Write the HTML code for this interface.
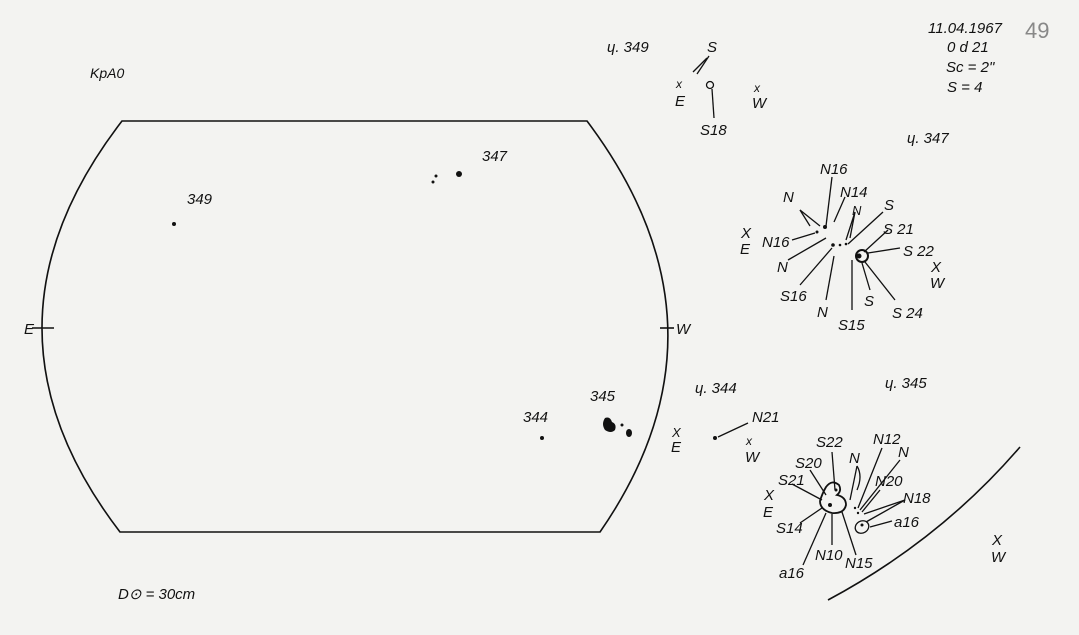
<!DOCTYPE html>
<html><head><meta charset="utf-8"><style>
html,body{margin:0;padding:0;background:#f3f3f1;}
svg{display:block}
text{font-family:"Liberation Sans",sans-serif;font-style:italic;fill:#111;font-size:15px}
</style></head><body>
<svg width="1079" height="635" viewBox="0 0 1079 635" xmlns="http://www.w3.org/2000/svg">
<rect width="1079" height="635" fill="#f3f3f1"/>
<g stroke="#111" stroke-width="1.6" fill="none">
<path d="M122,121 L587,121 Q742,327 600,532 L120,532 Q-37,327 122,121 Z"/>
<line x1="32" y1="328" x2="54" y2="328"/>
<line x1="660" y1="328" x2="674" y2="328"/>
<path d="M828,600 Q940,540 1020,447"/>
</g>
<g fill="#111">
<circle cx="174" cy="224" r="2"/>
<circle cx="459" cy="174" r="3"/>
<circle cx="436" cy="176" r="1.5"/><circle cx="433" cy="182" r="1.5"/>
<circle cx="542" cy="438" r="2"/>
<path d="M605,418 q-4,6 0,12 q6,4 10,0 q2,-6 -3,-8 q-2,-6 -7,-4z"/>
<circle cx="622" cy="425" r="1.5"/><ellipse cx="629" cy="433" rx="3" ry="4"/>
<circle cx="715" cy="438" r="2"/>
</g>
<text x="90" y="78" style="font-size:14px">KpA0</text>
<text x="187" y="204">349</text>
<text x="482" y="161">347</text>
<text x="523" y="422">344</text>
<text x="590" y="401">345</text>
<text x="24" y="334">E</text>
<text x="676" y="334">W</text>
<text x="118" y="599">D⊙ = 30cm</text>
<text x="928" y="33">11.04.1967</text>
<text x="947" y="52">0 d 21</text>
<text x="946" y="72">Sc = 2"</text>
<text x="947" y="92">S = 4</text>
<text x="1025" y="38" style="font-size:22px;fill:#888;font-style:normal">49</text>
<!-- group 349 -->
<text x="607" y="52">ɥ. 349</text>
<text x="707" y="52">S</text>
<text x="676" y="88" style="font-size:12px">x</text><text x="675" y="106">E</text>
<text x="754" y="92" style="font-size:12px">x</text><text x="752" y="108">W</text>
<text x="700" y="135">S18</text>
<g stroke="#111" stroke-width="1.3" fill="none">
<line x1="709" y1="56" x2="697" y2="74"/><line x1="707" y1="58" x2="693" y2="72"/>
<circle cx="710" cy="85" r="3.5"/><line x1="712" y1="89" x2="714" y2="118"/>
</g>
<!-- group 347 -->
<text x="907" y="143">ɥ. 347</text>
<text x="820" y="174">N16</text><text x="840" y="197">N14</text>
<text x="783" y="202">N</text><text x="852" y="215" style="font-size:13px">N</text>
<text x="884" y="210">S</text><text x="883" y="234">S 21</text>
<text x="903" y="256">S 22</text>
<text x="931" y="272">X</text><text x="930" y="288">W</text>
<text x="741" y="238">X</text><text x="740" y="254">E</text>
<text x="762" y="247">N16</text><text x="777" y="272">N</text>
<text x="780" y="301">S16</text><text x="817" y="317">N</text>
<text x="838" y="330">S15</text><text x="864" y="306">S</text>
<text x="892" y="318">S 24</text>
<g stroke="#111" stroke-width="1.3" fill="none">
<line x1="832" y1="177" x2="826" y2="226"/>
<line x1="845" y1="197" x2="834" y2="222"/>
<line x1="800" y1="210" x2="820" y2="226"/><line x1="800" y1="210" x2="810" y2="226"/>
<line x1="855" y1="212" x2="846" y2="240"/><line x1="855" y1="212" x2="850" y2="238"/>
<line x1="883" y1="212" x2="848" y2="244"/>
<line x1="888" y1="230" x2="864" y2="252"/>
<line x1="900" y1="248" x2="868" y2="253"/>
<line x1="792" y1="240" x2="815" y2="233"/>
<line x1="788" y1="260" x2="826" y2="238"/>
<line x1="800" y1="285" x2="832" y2="248"/>
<line x1="826" y1="300" x2="834" y2="256"/>
<line x1="852" y1="310" x2="852" y2="260"/>
<line x1="870" y1="290" x2="862" y2="263"/>
<line x1="895" y1="300" x2="865" y2="262"/>
<circle cx="862" cy="256" r="6" stroke-width="2"/>
</g>
<g fill="#111"><circle cx="825" cy="227" r="2"/><circle cx="817" cy="232" r="1.5"/><circle cx="833" cy="245" r="1.8"/><circle cx="840" cy="245" r="1.3"/><circle cx="846" cy="244" r="1.3"/><circle cx="859" cy="256" r="2.5"/></g>
<!-- group 344 -->
<text x="695" y="393">ɥ. 344</text>
<text x="752" y="422">N21</text>
<text x="672" y="437" style="font-size:13px">X</text><text x="671" y="452">E</text>
<text x="746" y="445" style="font-size:12px">x</text><text x="745" y="462">W</text>
<line x1="718" y1="437" x2="748" y2="423" stroke="#111" stroke-width="1.3"/>
<!-- group 345 -->
<text x="885" y="388">ɥ. 345</text>
<text x="816" y="447">S22</text><text x="873" y="444">N12</text>
<text x="898" y="457">N</text><text x="849" y="463">N</text>
<text x="795" y="468">S20</text><text x="875" y="486">N20</text>
<text x="778" y="485">S21</text><text x="903" y="503">N18</text>
<text x="764" y="500">X</text><text x="763" y="517">E</text>
<text x="894" y="527">a16</text>
<text x="776" y="533">S14</text>
<text x="815" y="560">N10</text><text x="845" y="568">N15</text>
<text x="779" y="578">a16</text>
<text x="992" y="545">X</text><text x="991" y="562">W</text>
<g stroke="#111" stroke-width="1.3" fill="none">
<path d="M826,487 q6,-8 13,-2 q3,6 -2,10 q9,2 9,10 q-2,9 -14,8 q-12,-3 -12,-12 q2,-7 6,-14z" stroke-width="1.8"/>
<ellipse cx="862" cy="527" rx="7" ry="6" transform="rotate(-30 862 527)"/>
<line x1="832" y1="452" x2="835" y2="490"/>
<line x1="810" y1="470" x2="826" y2="495"/>
<line x1="792" y1="484" x2="822" y2="500"/>
<line x1="800" y1="523" x2="822" y2="508"/>
<line x1="803" y1="565" x2="826" y2="513"/>
<line x1="832" y1="545" x2="832" y2="514"/>
<line x1="856" y1="555" x2="842" y2="512"/>
<line x1="857" y1="466" x2="850" y2="500"/><path d="M857,466 q6,10 0,24"/>
<line x1="882" y1="448" x2="858" y2="508"/>
<line x1="900" y1="460" x2="860" y2="510"/>
<line x1="880" y1="490" x2="862" y2="512"/>
<line x1="905" y1="500" x2="864" y2="514"/>
<line x1="905" y1="500" x2="866" y2="522"/>
<line x1="892" y1="521" x2="870" y2="527"/>
</g>
<g fill="#111"><circle cx="830" cy="505" r="2"/><circle cx="836" cy="490" r="1.5"/><circle cx="862" cy="525" r="1.5"/><circle cx="855" cy="508" r="1.2"/><circle cx="858" cy="513" r="1.2"/></g>
</svg>
</body></html>
